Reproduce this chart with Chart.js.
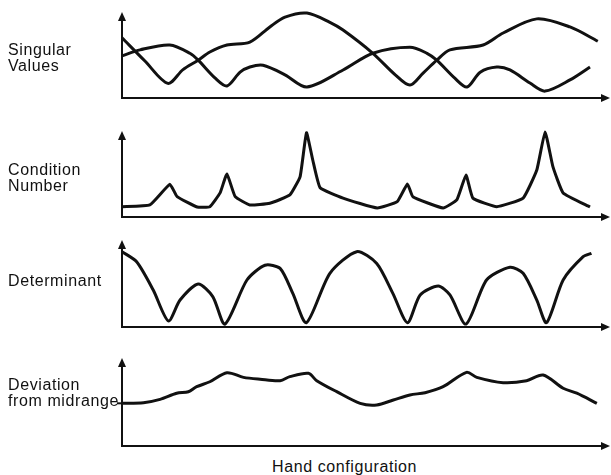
<!DOCTYPE html>
<html>
<head>
<meta charset="utf-8">
<script src="https://cdn.jsdelivr.net/npm/chart.js@4"></script>
<style>
  html, body { margin: 0; padding: 0; background: #fff; }
  #wrap { position: relative; width: 611px; height: 475px; overflow: hidden; }
  canvas { position: absolute; left: 0; }
  .lbl {
    position: absolute; left: 8px;
    font-family: "Liberation Sans", Arial, Helvetica, sans-serif;
    font-size: 16px; line-height: 16px; letter-spacing: 0.6px; color: #111;
    white-space: nowrap;
  }
</style>
</head>
<body>
<div id="wrap">
  <canvas id="c1" width="611" height="110" style="top:0px"></canvas>
  <canvas id="c2" width="611" height="110" style="top:120px"></canvas>
  <canvas id="c3" width="611" height="110" style="top:230px"></canvas>
  <canvas id="c4" width="611" height="110" style="top:345px"></canvas>

  <div class="lbl" style="top:42px">Singular<br>Values</div>
  <div class="lbl" style="top:162px">Condition<br>Number</div>
  <div class="lbl" style="top:273px">Determinant</div>
  <div class="lbl" style="top:377px">Deviation<br>from midrange</div>
  <div class="lbl" style="top:459px; left:272px">Hand configuration</div>
</div>

<script>
/* ── Data: x runs 0..100 along the configuration axis, y 0..100 per panel ── */

/* Singular values – two curves */
const sv1X = [0, 4.7, 9.4, 12.5, 15.6, 18.0, 21.5, 26.2, 30.3, 33.4, 37.9, 42.6, 45.3, 51.4, 56.0, 59.0, 61.7, 64.5, 67.2, 74.0, 78.1, 85.0, 91.8, 97.5];
const sv1Y = [70, 43, 17, 33, 44, 53.5, 61.6, 65, 82.6, 94, 98.8, 88, 79, 52, 27, 15, 29, 44, 56, 61.6, 75.6, 92, 82.6, 66];
const sv2X = [0, 3.7, 9.8, 13.9, 15.6, 19.1, 21.5, 24.2, 26.2, 28.9, 33.4, 37.9, 45.3, 51.4, 59.0, 62.5, 64.5, 68.2, 70.7, 73.4, 76.8, 79.5, 83.6, 86.7, 91.8, 95.9];
const sv2Y = [49, 56, 61.6, 52, 44, 23, 14, 30, 36, 38, 27, 12.8, 32.6, 52, 59, 52, 44, 23, 12.8, 30, 36, 32.6, 17.4, 8, 21, 36];

/* Condition number – spikes where a singular value goes to zero */
const cnX = [0, 5.7, 9.8, 11.3, 15.4, 18.0, 20.1, 21.5, 23.2, 26.2, 30.3, 34.4, 36.5, 37.8, 39.1, 40.6, 45.3, 52.3, 56.4, 58.5, 59.6, 65.8, 68.6, 70.5, 71.9, 76.8, 82.2, 85.0, 86.7, 88.3, 90.4, 95.9];
const cnY = [12, 14, 38, 23.6, 11.6, 12, 28, 50, 23.6, 14, 16, 25.6, 47, 98, 66, 34, 22, 10.5, 17.8, 38.4, 23.6, 10.5, 19.8, 48.8, 22, 12, 22, 54.6, 99, 58.5, 28, 11.6];

/* Determinant */
const detX = [0, 3.0, 6.4, 9.5, 11.9, 15.6, 18.6, 21.1, 25.6, 29.3, 32.4, 35.0, 37.8, 42.6, 48.1, 52.2, 55.5, 58.5, 61.1, 64.8, 67.2, 70.5, 74.7, 79.5, 82.2, 85.0, 87.0, 90.4, 94.5, 96.2];
const detY = [86.6, 75, 42.5, 7, 31, 49.4, 35, 3.4, 54, 71, 67.4, 38.7, 5, 61.7, 86.6, 73, 38.7, 5, 36.8, 47, 36.8, 3.4, 54, 68.6, 61.7, 31, 5, 54, 80.8, 84.7];

/* Deviation from midrange */
const devX = [0, 4.4, 7.8, 11.2, 13.6, 15.3, 18.0, 21.5, 24.9, 28.3, 32.4, 34.4, 38.2, 39.9, 44.0, 48.8, 52.2, 55.6, 59.0, 62.1, 65.8, 70.6, 72.7, 78.1, 82.9, 86.3, 90.4, 93.2, 97.3];
const devY = [48.5, 49.2, 53, 60, 61.7, 67.4, 73, 83.3, 78, 75.8, 74.2, 78.8, 82.6, 74.2, 61.7, 48.5, 46.6, 52.3, 58, 60.6, 67.4, 83.7, 78, 72, 74.2, 80.7, 65.6, 60, 48.5];

const INK = '#111';
const pts = (xs, ys) => xs.map((x, i) => ({ x, y: ys[i] }));

/* Draws the bare axes with arrowheads (no ticks, no grid) */
const arrowAxes = {
  id: 'arrowAxes',
  afterDraw(chart, args, opts) {
    const { ctx, chartArea: a } = chart;
    ctx.save();
    ctx.strokeStyle = INK;
    ctx.fillStyle = INK;
    ctx.lineWidth = 2;
    ctx.beginPath();
    ctx.moveTo(a.left, a.top + 6);
    ctx.lineTo(a.left, a.bottom);
    ctx.lineTo(a.right - 6, a.bottom);
    ctx.stroke();
    // up arrow
    ctx.beginPath();
    ctx.moveTo(a.left, a.top);
    ctx.lineTo(a.left - 4, a.top + 9);
    ctx.lineTo(a.left + 4, a.top + 9);
    ctx.closePath();
    ctx.fill();
    // right arrow
    ctx.beginPath();
    ctx.moveTo(a.right, a.bottom);
    ctx.lineTo(a.right - 9, a.bottom - 4);
    ctx.lineTo(a.right - 9, a.bottom + 4);
    ctx.closePath();
    ctx.fill();
    // small tick on the y axis at the start value (midrange marker)
    if (opts.startTick) {
      const y = chart.scales.y.getPixelForValue(chart.data.datasets[0].data[0].y);
      ctx.beginPath();
      ctx.moveTo(a.left - 5, y);
      ctx.lineTo(a.left, y);
      ctx.stroke();
    }
    ctx.restore();
  }
};

function mkPanel(id, series, pad, tension = 0.3, startTick = false) {
  const ctx = document.getElementById(id);
  return new Chart(ctx, {
    type: 'line',
    data: {
      datasets: series.map(d => ({
        data: d,
        borderColor: INK,
        borderWidth: 3,
        pointRadius: 0,
        tension,
        fill: false,
        clip: false,
      })),
    },
    options: {
      responsive: false,
      animation: false,
      layout: { padding: pad },
      plugins: {
        legend: { display: false },
        tooltip: { enabled: false },
        arrowAxes: { startTick },
      },
      scales: {
        x: { type: 'linear', min: 0, max: 100, display: false },
        y: { min: 0, max: 100, display: false },
      },
    },
    plugins: [arrowAxes],
  });
}

mkPanel('c1', [pts(sv1X, sv1Y), pts(sv2X, sv2Y)], { left: 122, right: 1, top: 12, bottom: 12 });
mkPanel('c2', [pts(cnX, cnY)], { left: 122, right: 1, top: 11, bottom: 13 }, 0.12);
mkPanel('c3', [pts(detX, detY)], { left: 122, right: 1, top: 10, bottom: 13 }, 0.25);
mkPanel('c4', [pts(devX, devY)], { left: 122, right: 1, top: 13, bottom: 9 }, 0.3, true);
</script>
</body>
</html>
